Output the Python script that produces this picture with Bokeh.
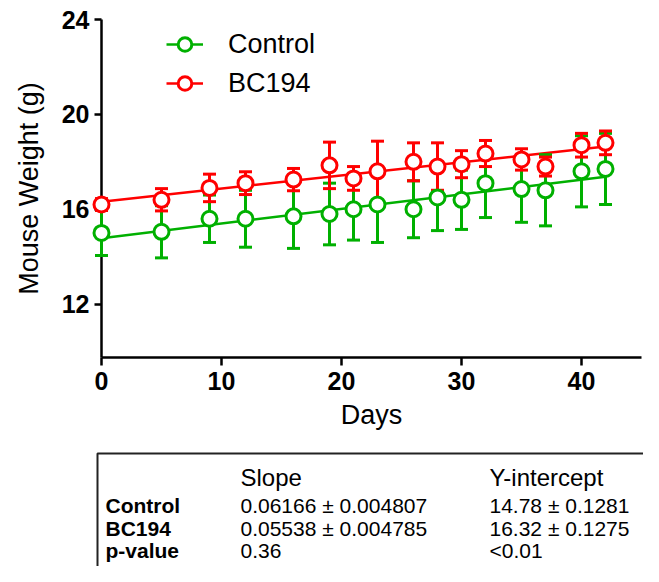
import numpy as np
from bokeh.plotting import figure
from bokeh.models import ColumnDataSource, Range1d, FixedTicker, Legend, LegendItem
from bokeh.core.properties import value
from bokeh.embed import file_html
from bokeh.resources import INLINE

# ---------------- data ----------------
days = [0, 5, 9, 12, 16, 19, 21, 23, 26, 28, 30, 32, 35, 37, 40, 42]
control_mean = [15.0, 15.05, 15.6, 15.6, 15.7, 15.8, 16.0, 16.2, 16.0, 16.5, 16.4, 17.1, 16.85, 16.8, 17.6, 17.7]
control_err = [0.95, 1.1, 1.0, 1.2, 1.35, 1.3, 1.3, 1.6, 1.2, 1.4, 1.25, 1.45, 1.4, 1.5, 1.5, 1.5]
bc194_mean = [16.2, 16.4, 16.9, 17.1, 17.25, 17.85, 17.3, 17.6, 18.0, 17.8, 17.9, 18.35, 18.1, 17.8, 18.7, 18.8]
bc194_err = [0.25, 0.47, 0.58, 0.48, 0.47, 0.98, 0.5, 1.27, 0.8, 1.0, 0.57, 0.55, 0.45, 0.4, 0.5, 0.5]

groups = ["Control", "BC194"]
slopes = [0.06166, 0.05538]
slope_err = [0.004807, 0.004785]
intercepts = [14.78, 16.32]
intercept_err = [0.1281, 0.1275]
p_values = ["0.36", "<0.01"]
table_columns = ["Slope", "Y-intercept"]
row_labels = ["Control", "BC194", "p-value"]

x_ticks = [0, 10, 20, 30, 40]
y_ticks = [12, 16, 20, 24]

# ---------------- layout (figure pixels) ----------------
FONT = "Liberation Sans"
GREEN = "#00B000"
RED = "#FF0000"
LEVEL = "overlay"

W, H = 643, 566
X0, X1 = 0, 45
Y0, Y1 = 9.75, 24
FL, FR, FT, FB = 101, 641, 19, 357          # frame edges in figure px


def px_x(fx):
    return X0 + (fx - FL) * (X1 - X0) / (FR - FL)


def px_y(fy):
    return Y1 - (fy - FT) * (Y1 - Y0) / (FB - FT)


p = figure(width=W, height=H, x_range=Range1d(X0, X1), y_range=Range1d(Y0, Y1),
           output_backend="svg", toolbar_location=None, tools="",
           min_border_left=FL, min_border_right=W - FR, min_border_top=FT, min_border_bottom=H - FB)
p.outline_line_color = None
p.grid.visible = False
p.background_fill_color = "white"

for ax in (p.xaxis[0], p.yaxis[0]):
    ax.axis_line_width = 2.5
    ax.axis_line_color = "black"
    ax.major_tick_line_width = 2.5
    ax.major_tick_line_color = "black"
    ax.major_tick_in = 0
    ax.minor_tick_line_color = None
    ax.major_label_text_font = FONT
    ax.major_label_text_font_style = "bold"
    ax.major_label_text_font_size = "25px"
    ax.major_label_text_color = "black"
    ax.axis_label_text_font = FONT
    ax.axis_label_text_font_style = "normal"
    ax.axis_label_text_font_size = "27px"
    ax.axis_label_text_color = "black"

p.xaxis.ticker = FixedTicker(ticks=x_ticks)
p.yaxis.ticker = FixedTicker(ticks=y_ticks)
p.xaxis.axis_label = "Days"
p.yaxis.axis_label = "Mouse Weight (g)"
p.xaxis.major_tick_out = 8
p.yaxis.major_tick_out = 7
p.xaxis.major_label_standoff = 6
p.yaxis.major_label_standoff = 5
p.xaxis.axis_label_standoff = 7
p.yaxis.axis_label_standoff = 15

series = [
    (control_mean, control_err, GREEN, 0),
    (bc194_mean, bc194_err, RED, 1),
]

lines, circles, sources = [], [], []
for mean, err, color, i in series:
    m = np.array(mean)
    e = np.array(err)
    sources.append(ColumnDataSource(dict(x=days, y=m, lo=m - e, hi=m + e)))

# regression lines
for mean, err, color, i in series:
    xf = [days[0], days[-1]]
    yf = [intercepts[i] + slopes[i] * xx for xx in xf]
    lines.append(p.line(xf, yf, line_color=color, line_width=2.5, level=LEVEL))

# error bars
for mean, err, color, i in series:
    src = sources[i]
    p.segment(x0="x", y0="lo", x1="x", y1="hi", source=src, line_color=color,
              line_width=3, level=LEVEL)
    p.scatter(x="x", y="lo", source=src, marker="dash", size=13, line_color=color,
              line_width=3, level=LEVEL)
    p.scatter(x="x", y="hi", source=src, marker="dash", size=13, line_color=color,
              line_width=3, level=LEVEL)

# markers
for mean, err, color, i in series:
    circles.append(p.scatter(x="x", y="y", source=sources[i], marker="circle", size=15,
                             fill_color="white", line_color=color, line_width=3, level=LEVEL))

legend = Legend(items=[LegendItem(label=groups[k], renderers=[lines[k], circles[k]]) for k in range(2)],
                location=(65, 257), orientation="vertical", padding=0, margin=0, spacing=5,
                glyph_width=37, glyph_height=34, label_height=34, label_standoff=25,
                label_text_font=FONT, label_text_font_size="27px", label_text_color="black",
                background_fill_alpha=0, border_line_alpha=0)
p.add_layout(legend)

# ---------------- table below the chart ----------------
box_left, box_top = 97, 453
p.quad(left=[px_x(box_left)], right=[px_x(W + 40)], top=[px_y(box_top)], bottom=[px_y(H + 40)],
       fill_color=None, line_color="#222222", line_width=2, level=LEVEL)

col_px = [240, 489]
header_py = 477
row_py = [505, 528, 550]
label_px = 105

t_kw = dict(text_font=value(FONT), text_baseline="middle", text_align="left",
            text_color="black", level=LEVEL)
p.text(x=[px_x(c) for c in col_px], y=[px_y(header_py)] * 2, text=table_columns,
       text_font_size=value("24px"), **t_kw)
p.text(x=[px_x(label_px)] * 3, y=[px_y(r) for r in row_py], text=row_labels,
       text_font_style="bold", text_font_size=value("21px"), **t_kw)

slope_txt = [f"{slopes[k]} \u00b1 {slope_err[k]}" for k in range(2)] + [p_values[0]]
icpt_txt = [f"{intercepts[k]} \u00b1 {intercept_err[k]}" for k in range(2)] + [p_values[1]]
p.text(x=[px_x(col_px[0])] * 3, y=[px_y(r) for r in row_py], text=slope_txt,
       text_font_size=value("21px"), **t_kw)
p.text(x=[px_x(col_px[1])] * 3, y=[px_y(r) for r in row_py], text=icpt_txt,
       text_font_size=value("21px"), **t_kw)

open("out.html", "w").write(file_html(p, INLINE))
